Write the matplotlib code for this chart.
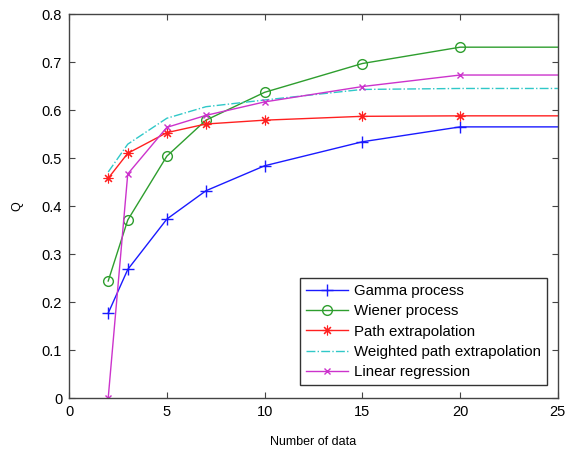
import matplotlib
matplotlib.use("Agg")
import matplotlib.pyplot as plt

plt.rcParams['font.family'] = ['Liberation Sans', 'DejaVu Sans']

# number of data points used (last point only extends the line to the axis edge)
n_data = [2, 3, 5, 7, 10, 15, 20, 25]

gamma = [0.177, 0.268, 0.373, 0.432, 0.484, 0.534, 0.565, 0.565]
wiener = [0.244, 0.371, 0.504, 0.579, 0.637, 0.697, 0.731, 0.731]
path_ext = [0.458, 0.510, 0.553, 0.571, 0.579, 0.587, 0.588, 0.588]
weighted_ext = [0.471, 0.529, 0.583, 0.607, 0.621, 0.643, 0.645, 0.645]
lin_reg = [0.0, 0.467, 0.564, 0.589, 0.617, 0.649, 0.673, 0.673]

fig = plt.figure(figsize=(5.71, 4.53), dpi=100)
ax = fig.add_axes([0.121, 0.121, 0.856, 0.848])

marks = slice(0, -1)
ax.plot(n_data, gamma, color='#1a1aff', marker='+', ms=8, mew=1.0, lw=1.0,
        markevery=marks, label='Gamma process')
ax.plot(n_data, wiener, color='#2e9e2e', marker='o', ms=7, mfc='none', mew=1.0, lw=1.0,
        markevery=marks, label='Wiener process')
ax.plot(n_data, path_ext, color='#ff2020', marker=(8, 2, 0), ms=7, mew=0.8, lw=1.0,
        markevery=marks, label='Path extrapolation')
ax.plot(n_data, weighted_ext, color='#30c8c8', ls='-.', lw=1.0,
        label='Weighted path extrapolation')
ax.plot(n_data, lin_reg, color='#cc33cc', marker='x', ms=5, mew=1.0, lw=1.0,
        markevery=marks, label='Linear regression')

ax.set_xlim(0, 25)
ax.set_ylim(0, 0.8)
ax.set_xticks([0, 5, 10, 15, 20, 25])
ax.set_yticks([0, 0.1, 0.2, 0.3, 0.4, 0.5, 0.6, 0.7, 0.8])
ax.set_yticklabels(['0', '0.1', '0.2', '0.3', '0.4', '0.5', '0.6', '0.7', '0.8'])
ax.tick_params(direction='in', top=True, right=True, labelsize=10.5, length=4,
               color='#444444', pad=5)
for sp in ax.spines.values():
    sp.set_color('#444444')
    sp.set_linewidth(1.0)

ax.set_xlabel('Number of data', fontsize=9, labelpad=12)
ax.set_ylabel('Q', fontsize=9, labelpad=13)

leg = ax.legend(loc='lower right', bbox_to_anchor=(0.977, 0.034), fontsize=10.8,
                fancybox=False, framealpha=1, edgecolor='#333333',
                handlelength=2.8, borderpad=0.4, labelspacing=0.42,
                handletextpad=0.4, borderaxespad=0)
leg.get_frame().set_linewidth(1.0)

fig.savefig('out.png', dpi=100)
